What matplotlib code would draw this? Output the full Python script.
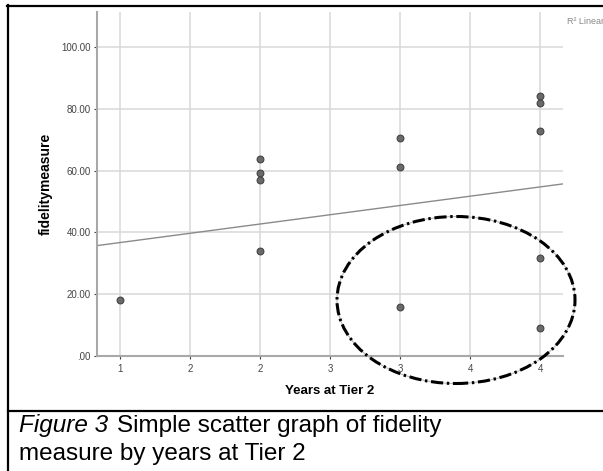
import numpy as np
import matplotlib
matplotlib.use("Agg")
import matplotlib.pyplot as plt
from matplotlib.patches import Ellipse
from matplotlib.lines import Line2D
from matplotlib.ticker import FuncFormatter

# data
years = [1, 2, 2, 2, 2, 3, 3, 3, 4, 4, 4, 4, 4]
fidelity = [18.1, 63.6, 59.1, 56.8, 34.0, 70.4, 61.3, 15.9, 84.0, 81.8, 72.8, 31.8, 9.0]
fit_intercept = 30.7
fit_slope = 6.0
x_ticks = [1, 1.5, 2, 2.5, 3, 3.5, 4]
y_ticks = [0, 20, 40, 60, 80, 100]

W, H = 603, 471
FONT = "Liberation Sans"
plt.rcParams['font.family'] = [FONT, 'DejaVu Sans']

fig = plt.figure(figsize=(W / 100, H / 100), dpi=100)

def fx(px):
    return px / W

def fy(py):
    return 1 - py / H

ax = fig.add_axes([fx(97), fy(356), fx(563) - fx(97), fy(12) - fy(356)])
ax.set_xlim(0.836, 4.164)
ax.set_ylim(0, 111.3)

ax.set_xticks(x_ticks)
ax.set_yticks(y_ticks)
ax.xaxis.set_major_formatter(FuncFormatter(lambda v, p: f"{int(np.floor(v + 0.5))}"))
ax.yaxis.set_major_formatter(FuncFormatter(lambda v, p: ".00" if v == 0 else f"{v:.2f}"))
ax.tick_params(axis='both', labelsize=7, colors='#444444', length=2.5, width=0.8)
ax.tick_params(axis='x', pad=3)
ax.tick_params(axis='y', pad=2)

ax.grid(True, color='#d9d9d9', linewidth=1.1)
ax.set_axisbelow(True)
for s in ['top', 'right']:
    ax.spines[s].set_visible(False)
for s in ['left', 'bottom']:
    ax.spines[s].set_color('#a8a8a8')
    ax.spines[s].set_linewidth(1.5)

# fit line
xl = np.array(ax.get_xlim())
ax.plot(xl, fit_intercept + fit_slope * xl, color='#8a8a8a', linewidth=1.0, zorder=2)

ax.scatter(years, fidelity, s=24, color='#6a6a6a', edgecolors='#444444', linewidths=0.8, zorder=3)

ax.set_xlabel("Years at Tier 2", fontsize=9.5, fontweight='bold', labelpad=8)
ax.set_ylabel("fidelitymeasure", fontsize=10, fontweight='bold', labelpad=6)

fig.text(fx(567), fy(21), "R\u00b2 Linear", fontsize=6.5, color='#888888', va='center', ha='left')

# hand drawn ellipse
ell_c = (fx(456), fy(300))
ell_w, ell_h = 238 / W, 167 / H
fig.patches.append(Ellipse(ell_c, ell_w, ell_h, transform=fig.transFigure, fill=False,
                           edgecolor='#bbbbbb', linewidth=0.8, zorder=5))
fig.patches.append(Ellipse(ell_c, ell_w, ell_h, transform=fig.transFigure, fill=False,
                           edgecolor='black', linewidth=2.2, linestyle=(0, (4, 1.2, 0.8, 1.2)),
                           zorder=6))

# frame lines
fig.add_artist(Line2D([fx(7), 1], [fy(5.5), fy(5.5)], color='black', linewidth=1.6, zorder=11))
fig.add_artist(Line2D([fx(8), fx(8)], [fy(5), 0], color='black', linewidth=1.6, zorder=11))
fig.add_artist(Line2D([fx(8), 1], [fy(411), fy(411)], color='black', linewidth=1.6, zorder=11))

# caption
r = fig.canvas.get_renderer()
t1 = fig.text(fx(19), fy(432), "Figure 3", fontsize=17.5, fontstyle='italic', va='baseline')
bb = t1.get_window_extent(renderer=r)
fig.text(fx(bb.x1 + 9), fy(432), "Simple scatter graph of fidelity", fontsize=17.5, va='baseline')
fig.text(fx(19), fy(460), "measure by years at Tier 2", fontsize=17.5, va='baseline')

fig.savefig("out.png", dpi=100)
